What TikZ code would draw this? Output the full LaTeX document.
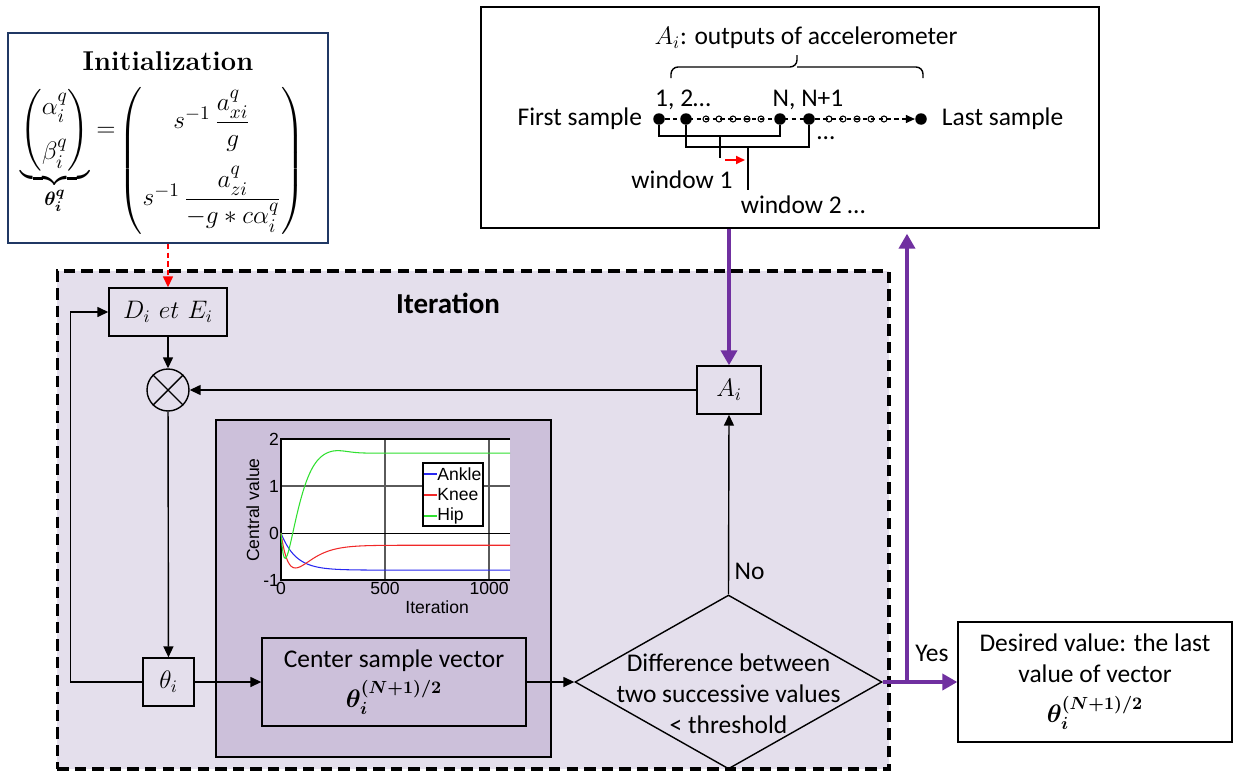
\documentclass[tikz,border=0pt]{standalone}
\usepackage{amsmath,amssymb}
\usepackage{fontspec}
\usepackage{tikz}
\usetikzlibrary{arrows.meta,positioning,calc,shapes.geometric}
\newfontfamily\calibri{Carlito}
\newfontfamily\arialfont{Liberation Sans}
\definecolor{IterLilac}{HTML}{E4DFEC}
\definecolor{PlotLilac}{HTML}{CCC0DA}
\definecolor{LoopPurple}{HTML}{7030A0}
\definecolor{InitNavy}{HTML}{203864}
\definecolor{GridGray}{HTML}{5A5A5A}
\definecolor{AnkleBlue}{HTML}{2828F0}
\definecolor{KneeRed}{HTML}{F02828}
\definecolor{HipGreen}{HTML}{30E030}

\begin{document}
\begin{tikzpicture}[
    x=0.02cm,y=-0.02cm,
    txt/.style={font=\calibri\fontsize{14.5}{17.6}\selectfont,align=center,inner sep=0pt},
    box/.style={draw,line width=0.8pt,minimum height=0.96cm,inner sep=0pt,font=\fontsize{14.5}{17}\selectfont},
    arr/.style={-{Triangle[length=2.2mm,width=2mm]},line width=0.8pt},
    parr/.style={-{Triangle[length=3mm,width=3.2mm]},line width=2.3pt,draw=LoopPurple},
    sdot/.style={circle,fill,inner sep=0pt,minimum size=0.23cm},
    hdot/.style={circle,draw,fill=white,line width=0.6pt,inner sep=0pt,minimum size=0.12cm},
    ptick/.style={font=\arialfont\fontsize{10}{12}\selectfont,inner sep=1pt},
    eqn/.style={inner sep=0pt,font=\fontsize{15.5}{18}\selectfont},
  ]
  \fill[white] (0,0) rectangle (1234,771);
  \useasboundingbox (0,0) rectangle (1234,771);

  \node[draw,line width=1.8pt,dash pattern=on 6.5pt off 3.5pt,fill=IterLilac,minimum width=16.64cm,minimum height=9.96cm,inner sep=0pt] (iterzone) at (473,520) {};
  \node[txt,font=\calibri\bfseries\fontsize{16.5}{20}\selectfont] (itertitle) at (448,303) {Iteration};
  \node[draw,line width=1pt,fill=PlotLilac,minimum width=6.7cm,minimum height=6.74cm,inner sep=0pt] (panel) at (383.5,588.5) {};

  \begin{scope}[shift={(281,533)},x=0.00416cm,y=0.94cm]
    \fill[white] (0,-1) rectangle (1100,2);
    \draw[GridGray,line width=1pt] (500,-1) -- (500,2) (1000,-1) -- (1000,2) (0,1) -- (1100,1);
    \draw[line width=0.5pt] (0,0) -- (1100,0);
    \draw[line width=0.9pt] (1100,2) -- (0,2) -- (0,-1) -- (1100,-1);
    \draw[AnkleBlue,line width=0.6pt,domain=0:1100,samples=221] plot (\x,{-0.79*(1-exp(max(-\x/70,-15)))});
    \draw[KneeRed,line width=0.6pt,domain=0:1100,samples=221] plot (\x,{-0.26*(1-exp(max(-\x/80,-15)))-0.6*(\x/60)*exp(max(1-\x/60,-15))});
    \draw[HipGreen,line width=0.6pt,domain=0:1100,samples=221] plot (\x,{1.70*(1-exp(-min((\x/115)*(\x/115),15)))-0.6*(\x/24)*exp(max(1-\x/24,-15))+0.06*exp(-min(((\x-260)/80)*((\x-260)/80),15))});
    \foreach \v in {-1,0,1,2}
      \node[ptick,anchor=east] (yt\v) at (0,\v) {\v};
    \foreach \v in {0,500,1000}
      \node[ptick,anchor=north] (xt\v) at (\v,-1) {\v};
    \node[ptick,rotate=90] (ylab) at (-135,0.49) {Central value};
    \node[ptick] (xlab) at (750,-1.57) {Iteration};
  \end{scope}
  \node[draw,fill=white,line width=0.8pt,minimum width=1.2cm,minimum height=1.26cm,inner sep=0pt] (legend) at (453,494.5) {};
  \draw[AnkleBlue,line width=0.6pt] (424,474) -- (437,474);
  \draw[KneeRed,line width=0.6pt] (424,495) -- (437,495);
  \draw[HipGreen,line width=0.6pt] (424,516) -- (437,516);
  \node[ptick,anchor=west,inner sep=0pt] (legankle) at (437,474) {Ankle};
  \node[ptick,anchor=west,inner sep=0pt] (legknee) at (437,495) {Knee};
  \node[ptick,anchor=west,inner sep=0pt] (leghip) at (437,516) {Hip};

  \node[draw=InitNavy,line width=1pt,fill=white,minimum width=6.4cm,minimum height=4.2cm,inner sep=0pt] (init) at (168,138) {};
  \node[font=\bfseries\fontsize{15.5}{18}\selectfont,inner sep=0pt] (inittitle) at (168,61) {Initialization};
  \node[eqn] (initlhs) at (68,152) {$\displaystyle
    \underbrace{\begin{pmatrix}\alpha_i^q\\[8pt] \beta_i^q\end{pmatrix}}_{\boldsymbol{\theta_i^q}}=$};
  \node[eqn] (initrhs) at (212,161) {$\displaystyle
    \begin{pmatrix} s^{-1}\,\dfrac{a_{xi}^q}{g}\\[16pt] s^{-1}\,\dfrac{a_{zi}^q}{-g*c\alpha_i^q}\end{pmatrix}$};

  \node[box,fill=IterLilac,minimum width=2.36cm] (dbox) at (168,312) {$D_i\ et\ E_i$};
  \node[circle,draw,line width=0.8pt,minimum size=0.84cm,inner sep=0pt] (mult) at (168,390) {};
  \draw[line width=0.8pt] (mult.north west) -- (mult.south east) (mult.north east) -- (mult.south west);
  \node[box,fill=IterLilac,minimum width=1.28cm] (abox) at (729,390) {$A_i$};
  \node[box,fill=IterLilac,minimum width=1.02cm] (thbox) at (168.5,682) {$\theta_i$};
  \node[box,txt,fill=PlotLilac,minimum width=5.28cm,minimum height=1.76cm] (center) at (394,682) {Center sample vector\\[5pt] $\boldsymbol{\theta_i^{(N+1)/2}}$};
  \node[diamond,draw,line width=0.8pt,aspect=1.77,minimum width=6.14cm,minimum height=3.48cm,inner sep=0pt] (decide) at (728.5,682) {};
  \node[txt] (decidetxt) at (728.5,694) {Difference between\\ two successive values\\ < threshold};
  \node[box,txt,fill=white,minimum width=5.48cm,minimum height=2.4cm] (desired) at (1095,682) {Desired value: the last\\ value of vector\\[5pt] $\boldsymbol{\theta_i^{(N+1)/2}}$};

  \node[draw,line width=0.8pt,fill=white,minimum width=12.36cm,minimum height=4.42cm,inner sep=0pt] (accel) at (790,117.5) {};
  \node[txt] (acctitle) at (806,38) {$A_i$: outputs of accelerometer};
  \coordinate (bracetip) at (797,55);
  \draw[line width=0.8pt,rounded corners=4pt] (671,78) |- (797,67) -- (bracetip);
  \draw[line width=0.8pt,rounded corners=4pt] (923,78) |- (797,67);
  \node[sdot] (s1) at (659,119) {};
  \node[sdot] (s2) at (686,119) {};
  \node[sdot] (sN) at (780,119) {};
  \node[sdot] (sN1) at (809,119) {};
  \node[sdot] (slast) at (921,119) {};
  \foreach \x [count=\k] in {706,719,733,747,761}
    \node[hdot] (ha\k) at (\x,119) {};
  \foreach \x [count=\k] in {829,843,857,871,884}
    \node[hdot] (hb\k) at (\x,119) {};
  \draw[line width=0.6pt,dash pattern=on 2.5pt off 2pt,-{Triangle[length=1.8mm,width=1.6mm]}] (s1) -- (slast);
  \node[txt,left=0.21cm of s1] (firstlbl) {First sample};
  \node[txt,right=0.29cm of slast] (lastlbl) {Last sample};
  \node[txt] (lbl12) at (683,100) {1, 2…};
  \node[txt] (lblN) at (808,100) {N, N+1};
  \draw[line width=0.8pt] (s1.south) |- (720,136) -| (sN.south);
  \draw[line width=0.8pt] (s2.south) |- (748,147) -| (sN1.south);
  \coordinate (w1tip) at (720,136);
  \coordinate (w2tip) at (748,147);
  \draw[line width=0.8pt] (w1tip) -- ++(0,22);
  \draw[line width=0.8pt] (w2tip) -- ++(0,43);
  \coordinate (shiftfrom) at (725,160);
  \coordinate (shiftto) at (745,160);
  \draw[red,line width=1pt,-{Triangle[length=1.8mm,width=1.6mm]}] (shiftfrom) -- (shiftto);
  \node[txt] (moredots) at (826,138) {…};
  \node[txt] (win1) at (682,180) {window 1};
  \node[txt] (win2) at (803,205) {window 2 …};

  \draw[red,line width=0.8pt,dash pattern=on 3pt off 2pt,-{Triangle[length=2.2mm,width=2mm]}] (init) -- (dbox);
  \draw[arr] (dbox) -- (mult);
  \draw[arr] (abox) -- (mult);
  \draw[arr] (mult) -- (thbox);
  \draw[arr] (thbox.west) -- ++(-72,0) |- (dbox.west);
  \draw[arr] (thbox) -- (center);
  \draw[arr] (center) -- (decide);
  \draw[arr] (decide.north) -- node[txt,anchor=west,pos=0.13,xshift=3pt] (nolbl) {No} (abox.south);
  \draw[parr] (accel.south -| abox.north) -- (abox.north);
  \coordinate (yesfork) at (907,682);
  \draw[parr] (decide.east) -- (desired.west);
  \draw[parr,shorten >=0.1cm] (yesfork) -- (yesfork |- accel.south);
  \node[txt,anchor=west] (yeslbl) at ($(yesfork)+(8,-29)$) {Yes};
\end{tikzpicture}
\end{document}
